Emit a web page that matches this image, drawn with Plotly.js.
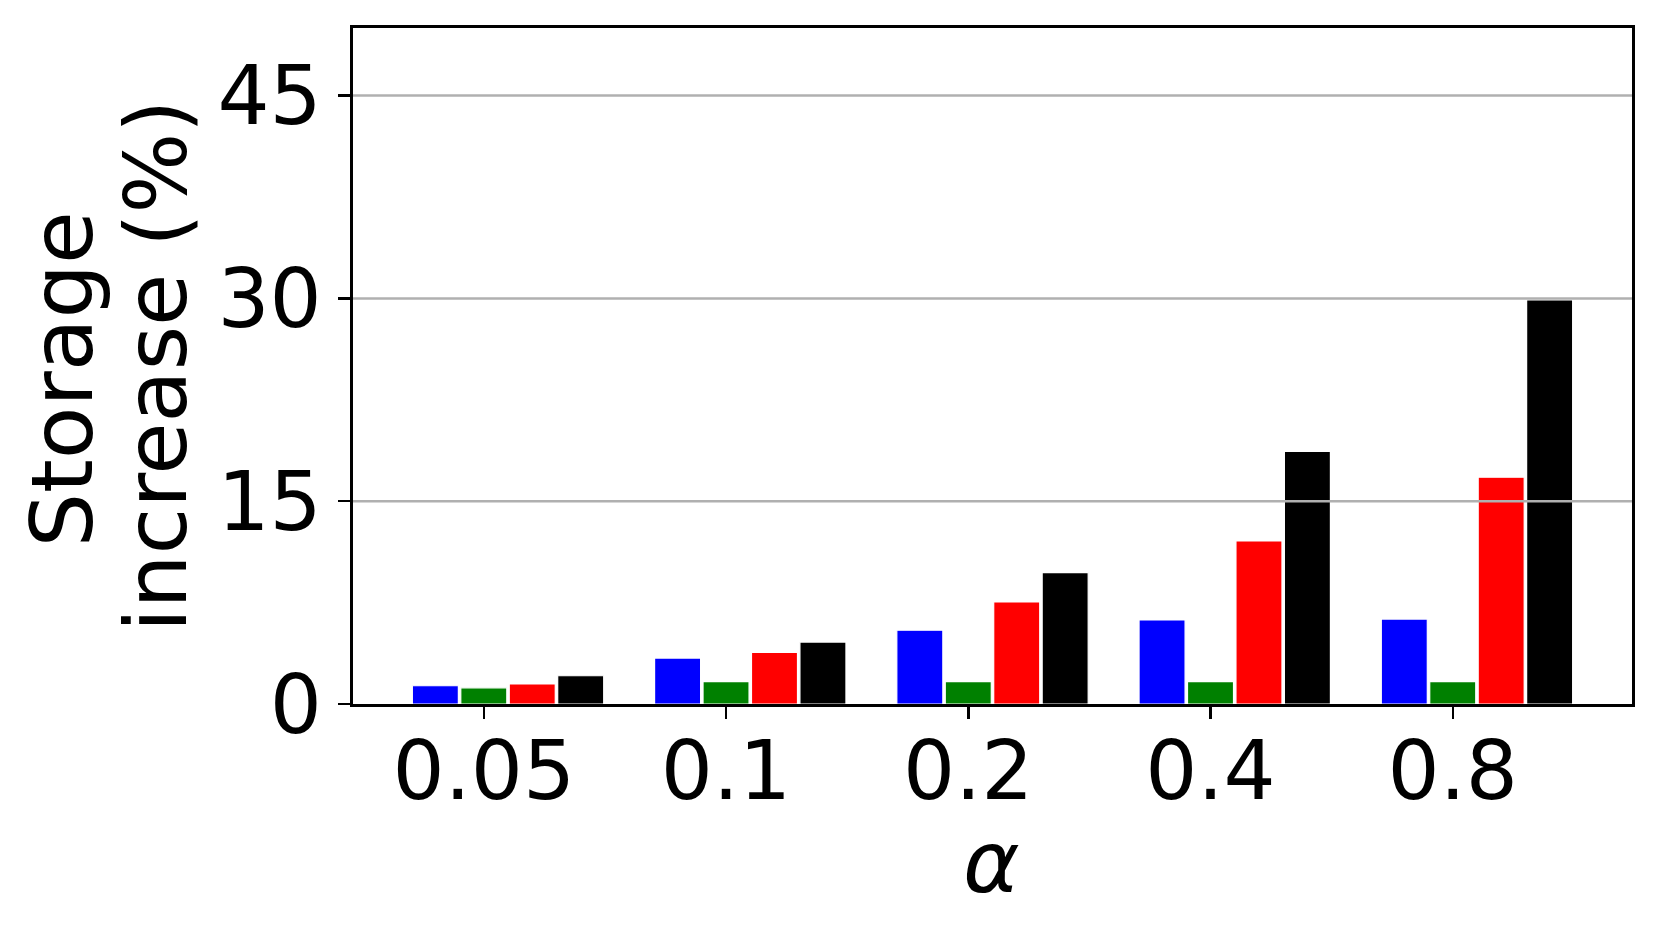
<!DOCTYPE html>
<html>
<head>
<meta charset="utf-8">
<script src="https://cdn.plot.ly/plotly-3.0.1.min.js"></script>
<style>
  html, body { margin: 0; padding: 0; background: #fff; }
  #chart { width: 1661px; height: 939px; }
</style>
</head>
<body>
<div id="chart"></div>
<script>
  // alpha values on the x axis
  const alphaLabels = ['0.05', '0.1', '0.2', '0.4', '0.8'];

  // storage increase (%) per series
  const blueVals  = [1.35, 3.40, 5.46, 6.22, 6.28];
  const greenVals = [1.20, 1.65, 1.65, 1.65, 1.65];
  const redVals   = [1.48, 3.81, 7.55, 12.06, 16.78];
  const blackVals = [2.09, 4.58, 9.72, 18.68, 29.88];

  const seriesVals   = [blueVals, greenVals, redVals, blackVals];
  const seriesColors = ['#0000ff', '#008000', '#ff0000', '#000000'];
  // bars sit left-to-right with the tick under the second one
  const seriesOffsets = [-0.295, -0.095, 0.105, 0.305];

  const yTicks = [0, 15, 30, 45];

  const pos = alphaLabels.map((_, i) => i);
  const FONT = 'DejaVu Sans, sans-serif';

  const traces = seriesVals.map((vals, k) => ({
    type: 'bar',
    x: pos,
    y: vals,
    width: 0.19,
    offset: seriesOffsets[k],
    marker: { color: seriesColors[k], line: { color: '#ffffff', width: 1.2 } },
    hoverinfo: 'y',
    showlegend: false
  }));

  // grid drawn above the bars, like the original
  const gridShapes = yTicks.filter(v => v > 0).map(v => ({
    type: 'line', xref: 'paper', yref: 'y', x0: 0, x1: 1, y0: v, y1: v,
    line: { color: '#b0b0b0', width: 2.5 }, layer: 'above'
  }));

  const layout = {
    width: 1661,
    height: 939,
    margin: { l: 353, r: 29, t: 28, b: 235 },
    paper_bgcolor: '#fff',
    plot_bgcolor: '#fff',
    font: { family: FONT, color: '#000', size: 82 },
    barmode: 'overlay',
    xaxis: {
      range: [-0.54, 4.74],
      tickvals: pos,
      ticktext: alphaLabels,
      ticks: 'outside', ticklen: 12, tickwidth: 2.5, tickcolor: '#000',
      showline: true, linecolor: '#000', linewidth: 2.8, mirror: true,
      showgrid: false, zeroline: false,
      tickfont: { size: 82 },
      ticklabelstandoff: -18
    },
    yaxis: {
      range: [0, 50],
      tickvals: yTicks,
      ticks: 'outside', ticklen: 12, tickwidth: 2.5, tickcolor: '#000',
      showline: true, linecolor: '#000', linewidth: 2.8, mirror: true,
      showgrid: false, zeroline: false,
      tickfont: { size: 82 }
    },
    shapes: gridShapes,
    annotations: [
      { text: 'Storage', xref: 'paper', yref: 'paper', x: (62 - 353) / 1279, y: 0.48,
        xanchor: 'center', yanchor: 'middle', textangle: -90, showarrow: false,
        font: { size: 86 } },
      { text: 'increase (%)', xref: 'paper', yref: 'paper', x: (156 - 353) / 1279, y: 0.5,
        xanchor: 'center', yanchor: 'middle', textangle: -90, showarrow: false,
        font: { size: 85 } },
      { text: '<i>α</i>', xref: 'paper', yref: 'paper', x: (991 - 353) / 1279, y: -0.234,
        xanchor: 'center', yanchor: 'middle', showarrow: false,
        font: { size: 86 } }
    ]
  };

  Plotly.newPlot('chart', traces, layout, { displayModeBar: false, staticPlot: true });
</script>
</body>
</html>
